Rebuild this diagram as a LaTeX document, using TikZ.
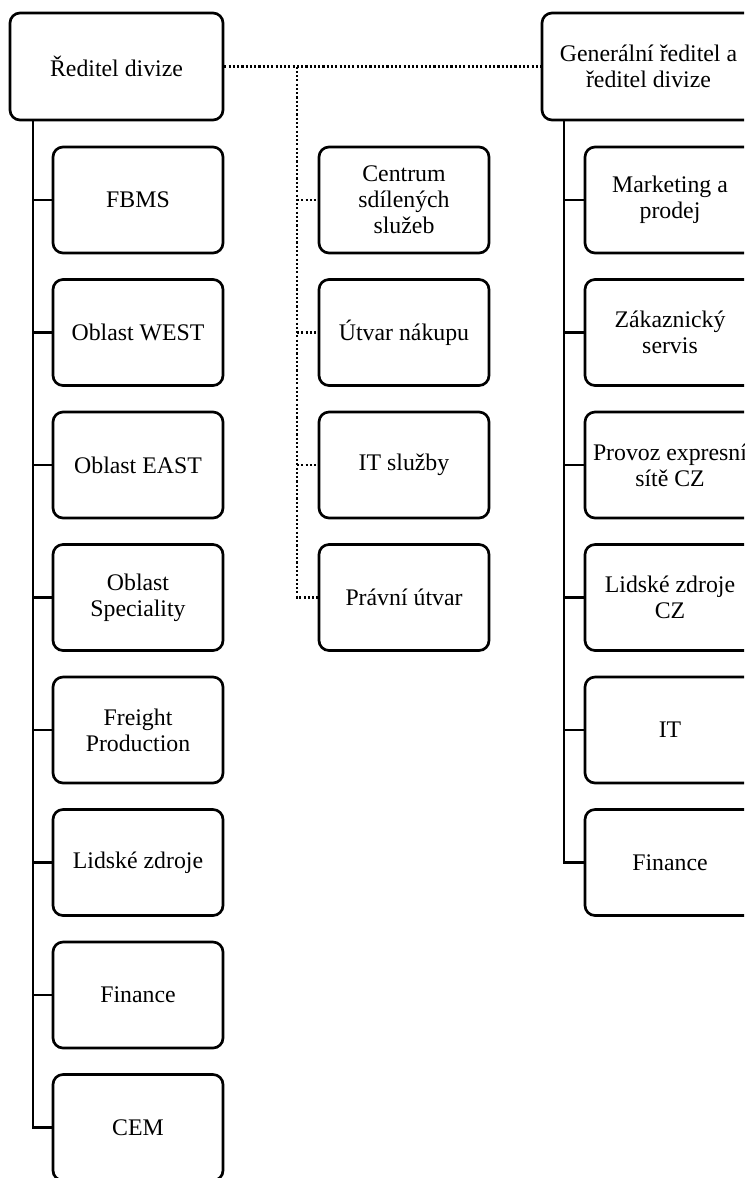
\documentclass[tikz,border=0pt]{standalone}
\usepackage{fontspec}
\setmainfont{Liberation Serif}
\usetikzlibrary{positioning}

\tikzset{
  unit/.style={draw, line width=2pt, rounded corners=7.5pt, align=center, inner sep=0pt,
    font=\fontsize{17.85}{19.5}\selectfont},
  headbox/.style={unit, minimum width=159.75pt, minimum height=80.25pt},
  subbox/.style={unit, minimum width=127.5pt, minimum height=79.5pt},
  trunk/.style={line width=1.8pt},
  dotline/.style={line width=1.8pt, dash pattern=on 1.6pt off 1.6pt},
}

\begin{document}
\begin{tikzpicture}[x=0.75pt, y=-0.75pt]
        \path[use as bounding box, clip] (0, 0) rectangle (744, 1178);

        \node[headbox] (dir) at (116.5, 66.5) {Ředitel divize};
        \node[headbox] (gen) at (648.5, 66.5) {Generální ředitel a\\ředitel divize};

        \node[subbox] (fbms) at (138, 200) {FBMS};
        \node[subbox] (west) at (138, 332.5) {Oblast WEST};
        \node[subbox] (east) at (138, 465) {Oblast EAST};
        \node[subbox] (spec) at (138, 597.5) {Oblast\\Speciality};
        \node[subbox] (freight) at (138, 730) {Freight\\Production};
        \node[subbox] (hr) at (138, 862.5) {Lidské zdroje};
        \node[subbox] (fin) at (138, 995) {Finance};
        \node[subbox] (cem) at (138, 1127.5) {CEM};

        \node[subbox] (csc) at (404, 200) {Centrum\\sdílených\\služeb};
        \node[subbox] (nakup) at (404, 332.5) {Útvar nákupu};
        \node[subbox] (its) at (404, 465) {IT služby};
        \node[subbox] (prav) at (404, 597.5) {Právní útvar};

        \node[subbox] (mkt) at (670, 200) {Marketing a\\prodej};
        \node[subbox] (zak) at (670, 332.5) {Zákaznický\\servis};
        \node[subbox] (provoz) at (670, 465) {Provoz expresní\\sítě CZ};
        \node[subbox] (hrcz) at (670, 597.5) {Lidské zdroje\\CZ};
        \node[subbox] (it) at (670, 730) {IT};
        \node[subbox] (fincz) at (670, 862.5) {Finance};

        % left branch
        \coordinate (ltrunk) at (33, 120);
        \draw [trunk] (ltrunk) |- (cem.west);
        \draw [trunk] (ltrunk |- fbms.west) -- (fbms.west);
        \draw [trunk] (ltrunk |- west.west) -- (west.west);
        \draw [trunk] (ltrunk |- east.west) -- (east.west);
        \draw [trunk] (ltrunk |- spec.west) -- (spec.west);
        \draw [trunk] (ltrunk |- freight.west) -- (freight.west);
        \draw [trunk] (ltrunk |- hr.west) -- (hr.west);
        \draw [trunk] (ltrunk |- fin.west) -- (fin.west);

        % right branch
        \coordinate (rtrunk) at (564, 120);
        \draw [trunk] (rtrunk) |- (fincz.west);
        \draw [trunk] (rtrunk |- mkt.west) -- (mkt.west);
        \draw [trunk] (rtrunk |- zak.west) -- (zak.west);
        \draw [trunk] (rtrunk |- provoz.west) -- (provoz.west);
        \draw [trunk] (rtrunk |- hrcz.west) -- (hrcz.west);
        \draw [trunk] (rtrunk |- it.west) -- (it.west);

        % staff units
        \coordinate (split) at (297, 66.5);
        \draw [dotline] (dir.east) -- (gen.west);
        \draw [dotline] (split) |- (prav.west);
        \draw [dotline] (split |- csc.west) -- (csc.west);
        \draw [dotline] (split |- nakup.west) -- (nakup.west);
        \draw [dotline] (split |- its.west) -- (its.west);
    \end{tikzpicture}
\end{document}
